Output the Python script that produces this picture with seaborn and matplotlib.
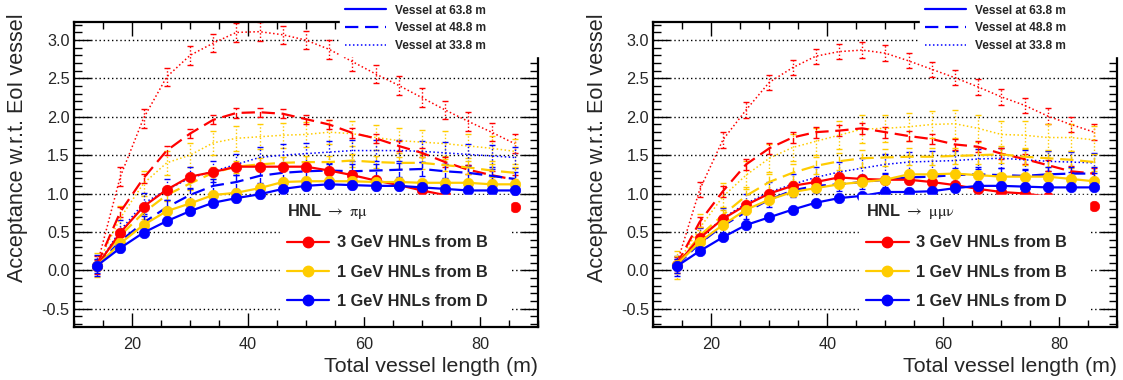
import matplotlib
matplotlib.use("Agg")
import matplotlib.pyplot as plt
import seaborn as sns
from matplotlib.lines import Line2D
from matplotlib.ticker import MultipleLocator

# ---------------- data ----------------
vessel_length = [14, 18, 22, 26, 30, 34, 38, 42, 46, 50, 54, 58, 62, 66, 70, 74, 78, 82, 86]

samples = ["3 GeV HNLs from B", "1 GeV HNLs from B", "1 GeV HNLs from D"]
vessel_labels = ["Vessel at 63.8 m", "Vessel at 48.8 m", "Vessel at 33.8 m"]
panel_titles = [r"HNL $\rightarrow$ $\mathrm{\pi\mu}$", r"HNL $\rightarrow$ $\mathrm{\mu\mu\nu}$"]

# HNL -> pi mu
pimu_3B_638 = [0.06, 0.49, 0.83, 1.05, 1.22, 1.28, 1.35, 1.35, 1.35, 1.35, 1.30, 1.24, 1.17, 1.11, 1.04, 0.98, 0.93, 0.88, 0.83]
pimu_1B_638 = [0.06, 0.35, 0.59, 0.77, 0.87, 0.98, 1.01, 1.07, 1.15, 1.16, 1.16, 1.16, 1.15, 1.15, 1.14, 1.14, 1.14, 1.12, 1.12]
pimu_1D_638 = [0.06, 0.29, 0.49, 0.64, 0.77, 0.88, 0.94, 0.99, 1.06, 1.10, 1.12, 1.11, 1.10, 1.10, 1.08, 1.06, 1.04, 1.04, 1.04]
pimu_3B_488 = [0.07, 0.76, 1.20, 1.56, 1.78, 1.96, 2.05, 2.06, 2.04, 1.97, 1.90, 1.79, 1.72, 1.62, 1.53, 1.41, 1.31, 1.24, 1.18]
pimu_1B_488 = [0.07, 0.45, 0.75, 0.98, 1.13, 1.27, 1.35, 1.38, 1.40, 1.41, 1.41, 1.43, 1.41, 1.40, 1.40, 1.37, 1.34, 1.30, 1.27]
pimu_1D_488 = [0.06, 0.38, 0.62, 0.82, 0.98, 1.10, 1.15, 1.23, 1.27, 1.29, 1.30, 1.29, 1.30, 1.31, 1.32, 1.29, 1.27, 1.23, 1.19]
pimu_3B_338 = [0.07, 1.22, 1.98, 2.52, 2.80, 2.96, 3.10, 3.11, 3.07, 3.00, 2.88, 2.72, 2.56, 2.41, 2.25, 2.09, 1.94, 1.80, 1.65]
pimu_1B_338 = [0.07, 0.68, 1.13, 1.40, 1.50, 1.66, 1.72, 1.74, 1.76, 1.77, 1.80, 1.78, 1.73, 1.69, 1.67, 1.65, 1.62, 1.59, 1.55]
pimu_1D_338 = [0.06, 0.52, 0.87, 1.05, 1.20, 1.29, 1.38, 1.47, 1.50, 1.52, 1.54, 1.56, 1.56, 1.56, 1.55, 1.53, 1.51, 1.49, 1.47]

# HNL -> mu mu nu
mumunu_3B_638 = [0.07, 0.42, 0.67, 0.85, 1.00, 1.10, 1.15, 1.21, 1.19, 1.18, 1.18, 1.15, 1.11, 1.06, 1.02, 1.00, 0.96, 0.90, 0.84]
mumunu_1B_638 = [0.07, 0.37, 0.59, 0.79, 0.92, 1.02, 1.07, 1.12, 1.15, 1.18, 1.25, 1.25, 1.26, 1.24, 1.22, 1.22, 1.22, 1.19, 1.16]
mumunu_1D_638 = [0.05, 0.25, 0.43, 0.59, 0.69, 0.79, 0.88, 0.94, 0.97, 1.02, 1.02, 1.03, 1.07, 1.10, 1.10, 1.09, 1.08, 1.08, 1.08]
mumunu_3B_488 = [0.07, 0.63, 1.03, 1.38, 1.59, 1.73, 1.80, 1.82, 1.85, 1.80, 1.75, 1.71, 1.64, 1.61, 1.52, 1.45, 1.37, 1.29, 1.26]
mumunu_1B_488 = [0.07, 0.45, 0.72, 0.97, 1.15, 1.27, 1.36, 1.42, 1.46, 1.47, 1.48, 1.48, 1.49, 1.50, 1.51, 1.48, 1.46, 1.44, 1.41]
mumunu_1D_488 = [0.06, 0.35, 0.58, 0.76, 0.92, 1.04, 1.10, 1.12, 1.15, 1.18, 1.21, 1.22, 1.24, 1.25, 1.24, 1.23, 1.25, 1.26, 1.26]
mumunu_3B_338 = [0.07, 1.05, 1.70, 2.09, 2.45, 2.64, 2.79, 2.85, 2.87, 2.83, 2.73, 2.62, 2.51, 2.39, 2.26, 2.15, 2.01, 1.90, 1.80]
mumunu_1B_338 = [0.07, 0.55, 0.96, 1.24, 1.46, 1.60, 1.68, 1.76, 1.84, 1.85, 1.87, 1.90, 1.91, 1.85, 1.77, 1.76, 1.73, 1.73, 1.70]
mumunu_1D_338 = [0.06, 0.42, 0.68, 0.87, 1.02, 1.12, 1.21, 1.28, 1.33, 1.38, 1.41, 1.42, 1.43, 1.45, 1.46, 1.44, 1.42, 1.41, 1.40]

# error bar half-widths (one per series)
pimu_err = {"638": [0.03, 0.03, 0.05], "488": [0.06, 0.08, 0.09], "338": [0.12, 0.16, 0.14]}
mumunu_err = {"638": [0.03, 0.04, 0.04], "488": [0.07, 0.11, 0.09], "338": [0.10, 0.18, 0.13]}

panels = [
    {"638": [pimu_3B_638, pimu_1B_638, pimu_1D_638],
     "488": [pimu_3B_488, pimu_1B_488, pimu_1D_488],
     "338": [pimu_3B_338, pimu_1B_338, pimu_1D_338],
     "err": pimu_err},
    {"638": [mumunu_3B_638, mumunu_1B_638, mumunu_1D_638],
     "488": [mumunu_3B_488, mumunu_1B_488, mumunu_1D_488],
     "338": [mumunu_3B_338, mumunu_1B_338, mumunu_1D_338],
     "err": mumunu_err},
]

# ---------------- style ----------------
sns.set_theme(style="ticks")
plt.rcParams["font.family"] = ["Liberation Sans", "DejaVu Sans"]
plt.rcParams["mathtext.fontset"] = "stix"
plt.rcParams["axes.linewidth"] = 1.6

colors = ["#ff0000", "#ffcc00", "#0000ff"]
line_styles = {"638": "-", "488": (0, (6, 3)), "338": (0, (1, 1.6))}
line_widths = {"638": 1.6, "488": 1.6, "338": 1.1}
err_styles = {"638": "-", "488": (0, (4, 2)), "338": (0, (1, 1.5))}

W, H = 1123, 380
fig = plt.figure(figsize=(W / 100, H / 100), dpi=100)
fig.patch.set_facecolor("white")

ax_w = 464 / W
ax_h = 305.3 / H
ax_b = 1 - 327 / H
lefts = [73.9 / W, 653.3 / W]

for p, panel in enumerate(panels):
    ax = fig.add_axes([lefts[p], ax_b, ax_w, ax_h])
    ax.set_facecolor("white")

    for key in ["338", "488", "638"]:
        for s in range(3):
            y = panel[key][s]
            e = panel["err"][key][s]
            eb = ax.errorbar(vessel_length, y, yerr=e, fmt="none", ecolor=colors[s],
                             elinewidth=1.0, capsize=2.0, capthick=1.0, zorder=2)
            for lc in eb[2]:
                lc.set_linestyle(err_styles[key])
            if key == "638":
                sns.lineplot(x=vessel_length, y=y, ax=ax, color=colors[s], linestyle="-",
                             linewidth=line_widths[key], marker="o", markersize=7.5,
                             markeredgecolor=colors[s], markeredgewidth=0.5,
                             errorbar=None, legend=False, zorder=3)
            else:
                sns.lineplot(x=vessel_length, y=y, ax=ax, color=colors[s],
                             linestyle=line_styles[key], linewidth=line_widths[key],
                             errorbar=None, legend=False, zorder=2.2)

    ax.set_xlim(10, 90)
    ax.set_ylim(-0.74, 3.24)
    ax.xaxis.set_major_locator(MultipleLocator(20))
    ax.xaxis.set_minor_locator(MultipleLocator(5))
    ax.yaxis.set_major_locator(MultipleLocator(0.5))
    ax.yaxis.set_minor_locator(MultipleLocator(0.1))
    ax.yaxis.set_major_formatter(matplotlib.ticker.FormatStrFormatter("%.1f"))
    ax.yaxis.grid(True, which="major", linestyle=(0, (1, 2)), color="black", linewidth=1.0, zorder=0)
    ax.xaxis.grid(False)
    ax.set_axisbelow(True)

    ax.tick_params(axis="both", which="both", direction="in", top=True, right=True,
                   color="black", width=1.0, labelsize=11.7)
    ax.tick_params(axis="x", which="major", length=10, pad=7)
    ax.tick_params(axis="x", which="minor", length=5)
    ax.tick_params(axis="y", which="major", length=12, pad=3)
    ax.tick_params(axis="y", which="minor", length=6)
    for sp in ax.spines.values():
        sp.set_color("black")
        sp.set_linewidth(1.6)

    ax.set_xlabel("Total vessel length (m)", fontsize=15.4, ha="right", va="center")
    ax.xaxis.set_label_coords(1.0, -0.128)
    ax.set_ylabel("Acceptance w.r.t. EoI vessel", fontsize=15.6, loc="top", va="center")
    ax.yaxis.set_label_coords(-0.121, 1.028)

    # vessel legend (line styles)
    v_handles = [Line2D([], [], color="#0000ff", linestyle=line_styles[k], linewidth=line_widths[k])
                 for k in ["638", "488", "338"]]
    x0 = (340 + 580 * p) / W
    leg1 = ax.legend(v_handles, vessel_labels, loc="upper left",
                     bbox_to_anchor=(x0, 0.0, 205 / W, 1.0), bbox_transform=fig.transFigure,
                     mode="expand", borderaxespad=0, prop={"weight": "bold", "size": 8.6},
                     handlelength=3.5, handletextpad=0.75, labelspacing=0.47, borderpad=0.38,
                     frameon=True, fancybox=False, framealpha=1.0, edgecolor="white",
                     facecolor="white")
    ax.add_artist(leg1)

    # HNL sample legend
    s_handles = [Line2D([], [], color=c, linestyle="-", linewidth=1.6, marker="o",
                        markersize=7.5, markeredgecolor=c) for c in colors]
    leg2 = ax.legend(s_handles, samples, loc="upper left",
                     bbox_to_anchor=(0.444, 0.0, 0.496, 0.431), mode="expand",
                     borderaxespad=0, prop={"weight": "bold", "size": 11.8},
                     title=panel_titles[p], title_fontproperties={"weight": "bold", "size": 11.8},
                     alignment="left",
                     handlelength=2.6, handletextpad=0.45, labelspacing=0.87, borderpad=0.41,
                     frameon=True, fancybox=False, framealpha=1.0, edgecolor="white",
                     facecolor="white")

fig.savefig("out.png", dpi=100, facecolor="white")
